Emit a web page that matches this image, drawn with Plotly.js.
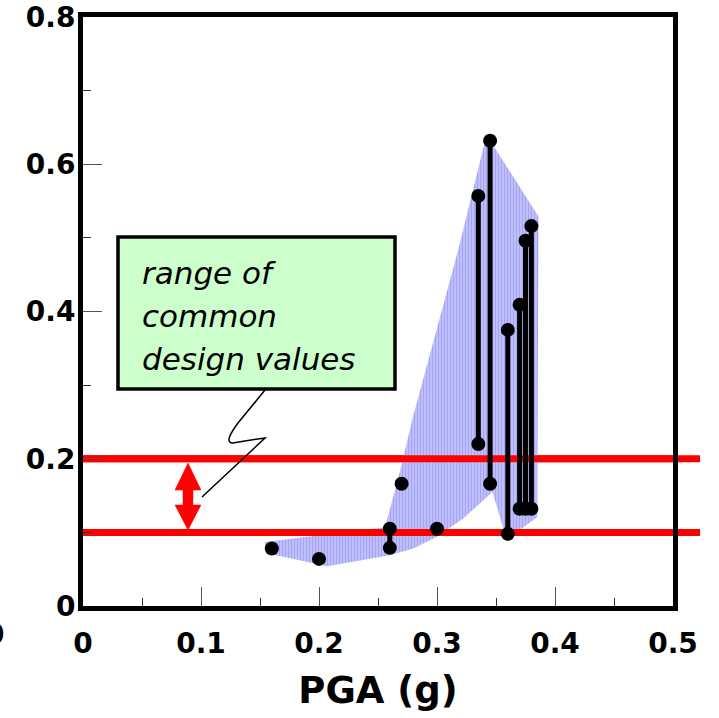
<!DOCTYPE html>
<html>
<head>
<meta charset="utf-8">
<script src="https://cdn.plot.ly/plotly-3.0.1.min.js"></script>
<style>html,body{margin:0;padding:0;background:#fff;}#chart{width:719px;height:718px;}</style>
</head>
<body>
<div id="chart"></div>
<script>
// ---- data ----
const pga       = [0.16, 0.20, 0.26, 0.27, 0.30, 0.335, 0.345, 0.36, 0.37, 0.375, 0.38];
const ratioLow  = [0.078, 0.064, 0.079, 0.166, 0.105, 0.220, 0.166, 0.098, 0.132, 0.132, 0.132];
const ratioHigh = [null, null, 0.105, null, null, 0.557, 0.632, 0.375, 0.409, 0.496, 0.516];

const envelopeX = [0.154, 0.155, 0.207, 0.260, 0.280, 0.300, 0.323, 0.347, 0.359, 0.385, 0.386, 0.342, 0.318, 0.279, 0.269, 0.256, 0.154];
const envelopeY = [0.087, 0.072, 0.054, 0.069, 0.078, 0.094, 0.120, 0.155, 0.090, 0.121, 0.529, 0.640, 0.484, 0.253, 0.185, 0.107, 0.087];

const designLow = 0.1, designHigh = 0.2;
const xTickVals = [0, 0.1, 0.2, 0.3, 0.4, 0.5];
const xTickText = ['0', '0.1', '0.2', '0.3', '0.4', '0.5'];
const yTickVals = [0, 0.2, 0.4, 0.6, 0.8];
const yTickText = ['0', '0.2', '0.4', '0.6', '0.8'];
const noteLines = ['range of', 'common', 'design values'];

// ---- layout geometry (pixel helpers for decorations) ----
const L = 83, R = 673, T = 17, B = 606;
const px = (x) => (x - L) / (R - L);
const py = (y) => (B - y) / (B - T);
const P = (x, y) => px(x).toFixed(4) + ',' + py(y).toFixed(4);

// vertical range lines
const segX = [], segY = [];
pga.forEach((x, i) => {
  if (ratioHigh[i] !== null) { segX.push(x, x, null); segY.push(ratioLow[i], ratioHigh[i], null); }
});
const ptX = [], ptY = [];
pga.forEach((x, i) => {
  ptX.push(x); ptY.push(ratioLow[i]);
  if (ratioHigh[i] !== null) { ptX.push(x); ptY.push(ratioHigh[i]); }
});

const traces = [
  { type: 'scatter', x: envelopeX, y: envelopeY, mode: 'lines', fill: 'toself',
    line: { width: 0, color: 'rgba(0,0,0,0)' },
    fillcolor: '#b9b9fb',
    fillpattern: { shape: '|', bgcolor: '#bebeff', fgcolor: '#a6a6f0', size: 3, solidity: 0.35 },
    hoverinfo: 'skip', showlegend: false },
  { type: 'scatter', x: [0, 0.5, null, 0, 0.5], y: [designLow, designLow, null, designHigh, designHigh],
    mode: 'lines', line: { color: '#ff0000', width: 7 }, showlegend: false, hoverinfo: 'skip' },
  { type: 'scatter', x: segX, y: segY, mode: 'lines', line: { color: '#000', width: 5 },
    showlegend: false, hoverinfo: 'skip' },
  { type: 'scatter', x: ptX, y: ptY, mode: 'markers', marker: { color: '#000', size: 14 },
    showlegend: false, cliponaxis: false }
];

const tickFontY = { family: 'DejaVu Sans', size: 28, color: '#000', weight: 'bold' };
const tickFontX = { family: 'DejaVu Sans', size: 28, color: '#000', weight: 'bold' };

const annotations = noteLines.map((t, i) => ({
  xref: 'paper', yref: 'paper', x: px(140), y: py([273, 316, 359][i]),
  xanchor: 'left', yanchor: 'middle', showarrow: false, text: t,
  font: { family: 'DejaVu Sans', size: 31, style: 'italic', color: '#000' }
}));
annotations.push({
  xref: 'paper', yref: 'paper', x: px(6), y: py(634), xanchor: 'right', yanchor: 'middle',
  showarrow: false, text: '0', font: tickFontY
});

const shapes = [
  // red design lines extending past the frame
  { type: 'line', xref: 'paper', yref: 'y', x0: 0, x1: px(700), y0: designLow, y1: designLow,
    line: { color: '#ff0000', width: 7 }, layer: 'below' },
  { type: 'line', xref: 'paper', yref: 'y', x0: 0, x1: px(700), y0: designHigh, y1: designHigh,
    line: { color: '#ff0000', width: 7 }, layer: 'below' },
  // note box
  { type: 'rect', xref: 'paper', yref: 'paper', x0: px(118), x1: px(395), y0: py(389), y1: py(237),
    fillcolor: '#ccffcc', line: { color: '#000', width: 3.5 }, layer: 'above' },
  // squiggle pointer
  { type: 'path', xref: 'paper', yref: 'paper', layer: 'above',
    path: 'M' + P(265, 390) + ' L' + P(238, 423) + ' Q' + P(223, 443) + ' ' + P(233, 443) +
          ' Q' + P(250, 440) + ' ' + P(265, 438) + ' L' + P(202, 497),
    line: { color: '#000', width: 1.5 } },
  // red double arrow
  { type: 'path', xref: 'paper', yref: 'paper', layer: 'above',
    path: 'M' + P(175, 490) + ' L' + P(188, 463) + ' L' + P(201, 490) + ' L' + P(193, 490) +
          ' L' + P(193, 505) + ' L' + P(201, 505) + ' L' + P(188, 530) + ' L' + P(175, 505) +
          ' L' + P(183, 505) + ' L' + P(183, 490) + ' Z',
    fillcolor: '#ff0000', line: { color: '#ff0000', width: 0.5 } }
];

const layout = {
  width: 719, height: 718,
  margin: { l: L, r: 719 - R, t: T, b: 718 - B, pad: 0 },
  paper_bgcolor: '#fff', plot_bgcolor: '#fff',
  showlegend: false,
  xaxis: {
    range: [0, 0.5], showgrid: false, zeroline: false,
    showline: true, linecolor: '#000', linewidth: 5, mirror: true,
    ticks: 'inside', ticklen: 19, tickwidth: 1, tickcolor: '#555',
    tickvals: xTickVals, ticktext: xTickText, tickfont: tickFontX, ticklabelstandoff: 8,
    minor: { dtick: 0.05, tick0: 0, ticks: 'inside', ticklen: 8, tickwidth: 1, tickcolor: '#333', showgrid: false },
    title: { text: 'PGA (g)', font: { family: 'DejaVu Sans', size: 37, weight: 'bold', color: '#000' }, standoff: 20 }
  },
  yaxis: {
    range: [0, 0.8], showgrid: false, zeroline: false,
    showline: true, linecolor: '#000', linewidth: 5, mirror: true,
    ticks: 'inside', ticklen: 19, tickwidth: 1, tickcolor: '#555',
    tickvals: yTickVals, ticktext: yTickText, tickfont: tickFontY, ticklabelstandoff: -3,
    minor: { dtick: 0.1, tick0: 0, ticks: 'inside', ticklen: 8, tickwidth: 1, tickcolor: '#333', showgrid: false }
  },
  shapes: shapes,
  annotations: annotations
};

Plotly.newPlot('chart', traces, layout, { displayModeBar: false, staticPlot: true });
</script>
</body>
</html>
